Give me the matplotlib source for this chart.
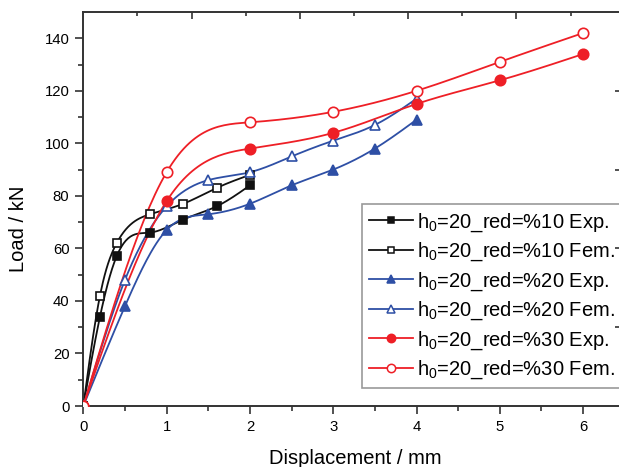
"""load vs displacement chart"""

import numpy as np
import matplotlib
matplotlib.use('Agg')
import matplotlib.pyplot as plt

plt.rcParams['font.family'] = ['Liberation Sans', 'DejaVu Sans']
plt.rcParams['mathtext.fontset'] = 'custom'
plt.rcParams['mathtext.rm'] = 'Liberation Sans'

# data (displacement in mm, load in kN)

x_10_exp = [0, 0.2, 0.4, 0.8, 1.2, 1.6, 2.0]
y_10_exp = [0, 34, 57, 66, 71, 76, 84]

x_10_fem = [0, 0.2, 0.4, 0.8, 1.2, 1.6, 2.0]
y_10_fem = [0, 42, 62, 73, 77, 83, 88]

x_20_exp = [0, 0.5, 1.0, 1.5, 2.0, 2.5, 3.0, 3.5, 4.0]
y_20_exp = [0, 38, 67, 73, 77, 84, 90, 98, 109]

x_20_fem = [0, 0.5, 1.0, 1.5, 2.0, 2.5, 3.0, 3.5, 4.0]
y_20_fem = [0, 48, 76, 86, 89, 95, 101, 107, 117]

x_30_exp = [0, 1, 2, 3, 4, 5, 6]
y_30_exp = [0, 78, 98, 104, 115, 124, 134]

x_30_fem = [0, 1, 2, 3, 4, 5, 6]
y_30_fem = [0, 89, 108, 112, 120, 131, 142]

labels = ['h$_\\mathregular{0}$=20_red=%10 Exp.',
          'h$_\\mathregular{0}$=20_red=%10 Fem.',
          'h$_\\mathregular{0}$=20_red=%20 Exp.',
          'h$_\\mathregular{0}$=20_red=%20 Fem.',
          'h$_\\mathregular{0}$=20_red=%30 Exp.',
          'h$_\\mathregular{0}$=20_red=%30 Fem.']

BLACK = '#111111'
BLUE = '#2e4fa5'
RED = '#ee1f26'


def spline_line(x, y, n=30):
    # natural cubic spline through the points, only for drawing the connecting line
    x = np.asarray(x, float)
    y = np.asarray(y, float)
    k = len(x)
    h = np.diff(x)
    A = np.zeros((k, k))
    b = np.zeros(k)
    A[0, 0] = 1
    A[-1, -1] = 1
    for i in range(1, k - 1):
        A[i, i - 1] = h[i - 1]
        A[i, i] = 2 * (h[i - 1] + h[i])
        A[i, i + 1] = h[i]
        b[i] = 6 * ((y[i + 1] - y[i]) / h[i] - (y[i] - y[i - 1]) / h[i - 1])
    M = np.linalg.solve(A, b)
    xs, ys = [], []
    for i in range(k - 1):
        t = np.linspace(x[i], x[i + 1], n)
        a = x[i + 1] - t
        c = t - x[i]
        s = (M[i] * a ** 3 + M[i + 1] * c ** 3) / (6 * h[i]) \
            + (y[i] / h[i] - M[i] * h[i] / 6) * a + (y[i + 1] / h[i] - M[i + 1] * h[i] / 6) * c
        xs.extend(t)
        ys.extend(s)
    return np.array(xs), np.array(ys)


fig = plt.figure(figsize=(6.19, 4.67), dpi=100)
ax = fig.add_axes([0.1346, 0.1306, 0.868, 0.8437])

series = [
    (x_10_exp, y_10_exp, BLACK, 's', BLACK, 6),
    (x_10_fem, y_10_fem, BLACK, 's', 'white', 6),
    (x_20_exp, y_20_exp, BLUE, '^', BLUE, 7.5),
    (x_20_fem, y_20_fem, BLUE, '^', 'white', 7.5),
    (x_30_exp, y_30_exp, RED, 'o', RED, 7.5),
    (x_30_fem, y_30_fem, RED, 'o', 'white', 7.5),
]

handles = []
for (x, y, col, mk, face, ms), lab in zip(series, labels):
    xs, ys = spline_line(x, y)
    ax.plot(xs, ys, color=col, lw=1.3, zorder=2)
    ax.plot(x, y, ls='none', marker=mk, ms=ms, mfc=face, mec=col, mew=1.2, zorder=3)
    h, = ax.plot([], [], color=col, lw=1.3, marker=mk, ms=ms - 1.5, mfc=face, mec=col, mew=1.1)
    handles.append(h)

ax.set_xlim(0, 6.45)
ax.set_ylim(0, 150)
ax.set_xticks(range(0, 7))
ax.set_xticks(np.arange(0.5, 6.5, 1.0), minor=True)
ax.set_yticks(range(0, 141, 20))
ax.set_yticks(range(10, 150, 20), minor=True)
ax.tick_params(which='major', direction='out', length=6, width=1.2, labelsize=10.7, pad=4, color='#333333')
ax.tick_params(which='minor', direction='out', length=3.5, width=1.2, color='#333333')
ax.tick_params(top=False, right=False)
for s in ['left', 'bottom', 'top']:
    ax.spines[s].set_linewidth(1.4)
    ax.spines[s].set_color('#333333')
ax.spines['right'].set_visible(False)

# top ticks (inward), not aligned with the bottom scale in the original
top = ax.twiny()
top.set_xlim(ax.get_xlim())
top.set_xticks(np.arange(1.3, 6.4, 1.3))
top.set_xticks(np.arange(0.65, 6.4, 1.3), minor=True)
top.tick_params(which='major', direction='in', length=5, width=1.2, labeltop=False, color='#333333')
top.tick_params(which='minor', direction='in', length=3, width=1.2, color='#333333')
for s in top.spines.values():
    s.set_visible(False)

# right ticks (inward)
right = ax.twinx()
right.set_ylim(ax.get_ylim())
right.set_yticks(range(30, 150, 30))
right.tick_params(direction='in', length=4, width=1.2, labelright=False, color='#333333')
for s in right.spines.values():
    s.set_visible(False)

ax.set_xlabel('Displacement / mm', fontsize=14.5)
ax.set_ylabel('Load / kN', fontsize=14.5)
ax.xaxis.set_label_coords(0.5057, -0.11)
ax.yaxis.set_label_coords(-0.103, 0.45)

leg = ax.legend(handles, labels, loc='upper left', bbox_to_anchor=(0.5843, 0.5632),
                bbox_transform=fig.transFigure, borderaxespad=0, fontsize=14.5,
                fancybox=False, framealpha=1, edgecolor='#999999',
                handlelength=2.2, handletextpad=0.2, labelspacing=0.35, borderpad=0.35)
leg.get_frame().set_linewidth(1.2)
leg.set_zorder(5)

fig.savefig('out.png', dpi=100)
